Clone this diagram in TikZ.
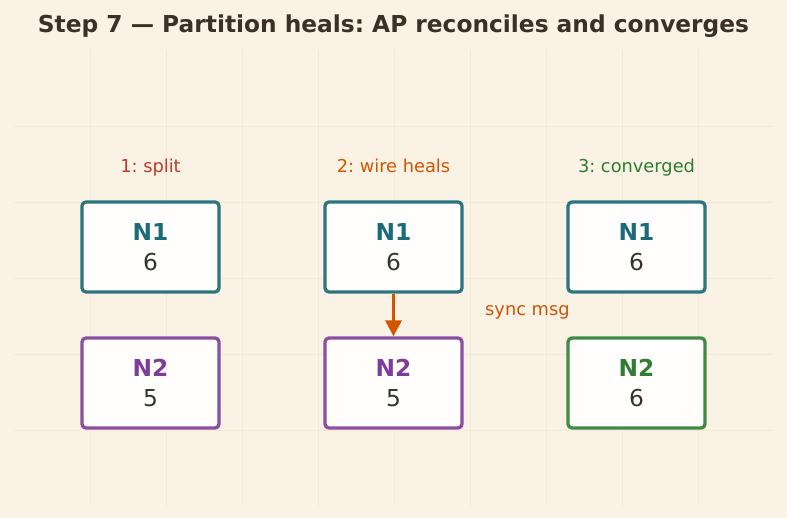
\documentclass[tikz,border=0pt]{standalone}
\usepackage{fontspec}
\setmainfont{DejaVu Sans}
\usetikzlibrary{arrows.meta}
\frenchspacing
\definecolor{bg}{HTML}{FAF2E4}
\definecolor{gridc}{HTML}{F2E9D7}
\definecolor{titlec}{HTML}{3B2F28}
\definecolor{redc}{HTML}{C0392B}
\definecolor{orangec}{HTML}{D35400}
\definecolor{greenc}{HTML}{2E7D32}
\definecolor{tealb}{HTML}{2C7580}
\definecolor{tealt}{HTML}{1B6B7A}
\definecolor{purpb}{HTML}{8A4FA3}
\definecolor{purpt}{HTML}{7D3C98}
\definecolor{greenb}{HTML}{3F8A47}
\definecolor{numc}{HTML}{333333}
\tikzset{
  nodebox/.style={draw=#1, line width=3.3pt, rounded corners=4pt, fill=white!80!bg!30!white,
    minimum width=137pt, minimum height=90pt, inner sep=0pt, align=center,
    font=\fontsize{23.3}{30.5}\selectfont, text=numc},
  phase/.style={font=\fontsize{17.8}{21}\selectfont, text=#1, anchor=base, inner sep=0pt},
  gridl/.style={draw=gridc, line width=0.6pt}
}
\begin{document}
\begin{tikzpicture}[x=1pt,y=-1pt]
\fill[bg] (0,0) rectangle (787,518);
\useasboundingbox (0,0) rectangle (787,518);
\foreach \x in {90,166,...,750} \draw[gridl] (\x,50) -- (\x,506);
\foreach \y in {126,202,...,500} \draw[gridl] (14,\y) -- (772,\y);
\node[font=\fontsize{23.3}{28}\selectfont\bfseries, text=titlec, anchor=base, inner sep=0pt] (title) at (393.5,33) {Step 7 — Partition heals: AP reconciles and converges};
\node[phase=redc] (l1) at (150.5,172.5) {1: split};
\node[phase=orangec] (l2) at (393.5,172.5) {2: wire heals};
\node[phase=greenc] (l3) at (636.5,172.5) {3: converged};
\node[nodebox=tealb] (a1) at (150.5,247) {\textcolor{tealt}{\bfseries N1}\\6};
\node[nodebox=purpb] (b1) at (150.5,383) {\textcolor{purpt}{\bfseries N2}\\5};
\node[nodebox=tealb] (a2) at (393.5,247) {\textcolor{tealt}{\bfseries N1}\\6};
\node[nodebox=purpb] (b2) at (393.5,383) {\textcolor{purpt}{\bfseries N2}\\5};
\node[nodebox=tealb] (a3) at (636.5,247) {\textcolor{tealt}{\bfseries N1}\\6};
\node[nodebox=greenb] (b3) at (636.5,383) {\textcolor{greenc}{\bfseries N2}\\6};
\draw[orangec, line width=3.2pt, -{Triangle[length=16pt,width=16pt]}] (a2.south) -- (b2.north);
\node[phase=orangec, anchor=base west] (sync) at (485,316) {sync msg};
\end{tikzpicture}
\end{document}
